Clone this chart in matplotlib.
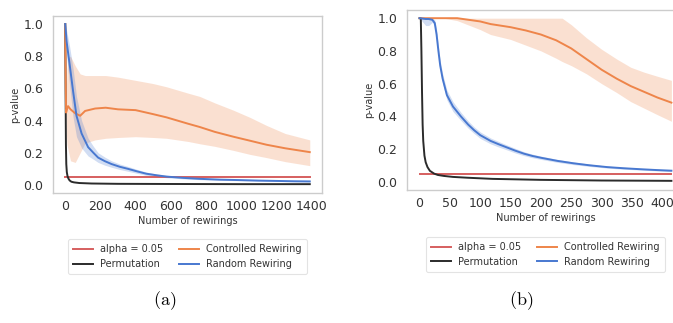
import numpy as np
import matplotlib
matplotlib.use("Agg")
import matplotlib.pyplot as plt

plt.rcParams["mathtext.fontset"] = "cm"

# colours (seaborn "muted"-like)
c_alpha = "#d65f5f"
c_perm = "#2b2b2b"
c_ctrl = "#ee854a"
c_rand = "#4878d0"

# ---------------- panel (a) ----------------
alpha_a_x = [0, 1390]
alpha_a_y = [0.05, 0.05]

perm_a_x = [0, 2, 4, 6, 9, 13, 18, 25, 35, 50, 80, 150, 300, 600, 1000, 1390]
perm_a_y = [1.0, 0.6, 0.25, 0.13, 0.08, 0.055, 0.04, 0.028, 0.02, 0.016, 0.012, 0.009, 0.007, 0.006, 0.005, 0.005]

rand_a_x = [0, 8, 25, 45, 64, 93, 130, 160, 187, 225, 263, 310, 357, 410, 460, 520, 575, 670, 765, 880, 1000, 1100, 1200, 1300, 1390]
rand_a_y = [1.0, 0.89, 0.75, 0.58, 0.43, 0.32, 0.235, 0.2, 0.17, 0.148, 0.13, 0.113, 0.10, 0.084, 0.07, 0.06, 0.052, 0.044, 0.038, 0.033, 0.03, 0.027, 0.025, 0.023, 0.022]
rand_a_lo = [1.0, 0.8, 0.62, 0.42, 0.3, 0.23, 0.18, 0.16, 0.14, 0.123, 0.11, 0.096, 0.085, 0.072, 0.06, 0.052, 0.045, 0.038, 0.033, 0.029, 0.026, 0.024, 0.022, 0.02, 0.019]
rand_a_hi = [1.0, 0.96, 0.86, 0.72, 0.55, 0.4, 0.29, 0.24, 0.2, 0.173, 0.15, 0.13, 0.115, 0.096, 0.08, 0.068, 0.06, 0.05, 0.043, 0.037, 0.034, 0.031, 0.028, 0.026, 0.025]

ctrl_a_x = [0, 3, 5, 10, 16, 30, 57, 85, 113, 170, 230, 300, 400, 500, 576, 700, 765, 850, 955, 1050, 1144, 1250, 1390]
ctrl_a_y = [1.0, 0.6, 0.45, 0.47, 0.49, 0.47, 0.445, 0.43, 0.46, 0.475, 0.48, 0.47, 0.465, 0.44, 0.42, 0.38, 0.36, 0.33, 0.30, 0.275, 0.25, 0.228, 0.204]
ctrl_a_lo = [1.0, 0.5, 0.35, 0.25, 0.22, 0.15, 0.14, 0.2, 0.26, 0.28, 0.29, 0.295, 0.3, 0.295, 0.29, 0.27, 0.256, 0.24, 0.215, 0.19, 0.17, 0.145, 0.12]
ctrl_a_hi = [1.0, 0.7, 0.55, 0.72, 0.79, 0.80, 0.74, 0.69, 0.68, 0.68, 0.68, 0.67, 0.65, 0.63, 0.61, 0.57, 0.55, 0.51, 0.465, 0.42, 0.37, 0.32, 0.28]

# ---------------- panel (b) ----------------
alpha_b_x = [0, 415]
alpha_b_y = [0.05, 0.05]

perm_b_x = [0, 2, 3, 4, 5, 6, 8, 10, 13, 17, 24, 30, 40, 55, 79, 120, 200, 300, 415]
perm_b_y = [1.0, 1.0, 0.8, 0.55, 0.35, 0.25, 0.16, 0.12, 0.09, 0.067, 0.05, 0.042, 0.036, 0.03, 0.025, 0.018, 0.012, 0.008, 0.006]

rand_b_x = [0, 10, 15, 21, 25, 28, 31, 34, 38, 45, 55, 68, 80, 90, 100, 117, 130, 144, 158, 172, 186, 200, 227, 254, 280, 309, 336, 364, 390, 415]
rand_b_y = [1.0, 0.995, 0.995, 0.99, 0.97, 0.9, 0.8, 0.71, 0.63, 0.53, 0.46, 0.4, 0.35, 0.315, 0.285, 0.25, 0.23, 0.21, 0.19, 0.172, 0.158, 0.147, 0.128, 0.113, 0.101, 0.09, 0.083, 0.077, 0.072, 0.068]
rand_b_lo = [1.0, 0.955, 0.955, 0.975, 0.95, 0.87, 0.77, 0.68, 0.6, 0.5, 0.43, 0.375, 0.328, 0.295, 0.265, 0.232, 0.213, 0.195, 0.176, 0.16, 0.147, 0.137, 0.119, 0.105, 0.094, 0.084, 0.077, 0.072, 0.067, 0.063]
rand_b_hi = [1.0, 1.0, 1.0, 1.0, 0.99, 0.93, 0.83, 0.74, 0.66, 0.56, 0.49, 0.425, 0.372, 0.335, 0.305, 0.268, 0.247, 0.225, 0.204, 0.184, 0.169, 0.157, 0.137, 0.121, 0.108, 0.096, 0.089, 0.082, 0.077, 0.073]

ctrl_b_x = [0, 40, 62, 100, 117, 150, 175, 200, 225, 235, 250, 275, 300, 325, 348, 370, 392, 415]
ctrl_b_y = [1.0, 1.0, 1.0, 0.98, 0.964, 0.945, 0.925, 0.90, 0.865, 0.845, 0.815, 0.75, 0.685, 0.63, 0.585, 0.55, 0.515, 0.484]
ctrl_b_lo = [1.0, 1.0, 0.985, 0.93, 0.9, 0.87, 0.835, 0.80, 0.755, 0.735, 0.71, 0.66, 0.6, 0.545, 0.49, 0.45, 0.41, 0.37]
ctrl_b_hi = [1.0, 1.0, 1.0, 1.0, 1.0, 1.0, 1.0, 1.0, 1.0, 1.0, 0.96, 0.88, 0.81, 0.75, 0.70, 0.67, 0.645, 0.62]

ticks_a = [0, 200, 400, 600, 800, 1000, 1200, 1400]
ticks_b = [0, 50, 100, 150, 200, 250, 300, 350, 400]
yticks = [0.0, 0.2, 0.4, 0.6, 0.8, 1.0]

W, H = 673, 323
fig = plt.figure(figsize=(W / 100, H / 100), dpi=100)


def px_axes(left, top, right, bottom):
    return fig.add_axes([left / W, 1 - bottom / H, (right - left) / W, (bottom - top) / H])


def draw(ax, alpha, perm, ctrl, rand, xticks, xlim):
    ax.fill_between(ctrl[0], ctrl[2], ctrl[3], color=c_ctrl, alpha=0.25, lw=0)
    ax.fill_between(rand[0], rand[2], rand[3], color=c_rand, alpha=0.25, lw=0)
    ax.plot(alpha[0], alpha[1], color=c_alpha, lw=1.4, label="alpha = 0.05")
    ax.plot(perm[0], perm[1], color=c_perm, lw=1.4, label="Permutation")
    ax.plot(ctrl[0], ctrl[1], color=c_ctrl, lw=1.4, label="Controlled Rewiring")
    ax.plot(rand[0], rand[1], color=c_rand, lw=1.4, label="Random Rewiring")
    ax.set_xlim(*xlim)
    ax.set_ylim(-0.05, 1.05)
    ax.set_xticks(xticks)
    ax.set_yticks(yticks)
    ax.set_yticklabels([f"{v:.1f}" for v in yticks])
    ax.tick_params(length=0, labelsize=9, colors="#333333", pad=7)
    ax.tick_params(axis="x", pad=5)
    for s in ax.spines.values():
        s.set_color("#cccccc")
        s.set_linewidth(1.0)
    ax.set_xlabel("Number of rewirings", fontsize=7, color="#333333", labelpad=2)
    ax.set_ylabel("p-value", fontsize=7, color="#333333", labelpad=2)
    leg = ax.legend(loc="upper center", bbox_to_anchor=(0.5, -0.235), ncol=2,
                    fontsize=7, frameon=True, handlelength=2.0,
                    columnspacing=1.6, borderpad=0.5, labelspacing=0.5)
    leg.get_frame().set_edgecolor("#dddddd")
    leg.get_frame().set_linewidth(0.8)
    for t in leg.get_texts():
        t.set_color("#333333")


ax1 = px_axes(53, 16, 322, 193)
draw(ax1, (alpha_a_x, alpha_a_y), (perm_a_x, perm_a_y),
     (ctrl_a_x, ctrl_a_y, ctrl_a_lo, ctrl_a_hi),
     (rand_a_x, rand_a_y, rand_a_lo, rand_a_hi), ticks_a, (-69.5, 1459.5))

ax2 = px_axes(407, 10, 684, 190)
draw(ax2, (alpha_b_x, alpha_b_y), (perm_b_x, perm_b_y),
     (ctrl_b_x, ctrl_b_y, ctrl_b_lo, ctrl_b_hi),
     (rand_b_x, rand_b_y, rand_b_lo, rand_b_hi), ticks_b, (-20.75, 435.75))

fig.text(165 / W, 1 - 301 / H, r"$\mathrm{(a)}$", ha="center", va="center", fontsize=13)
fig.text(521 / W, 1 - 301 / H, r"$\mathrm{(b)}$", ha="center", va="center", fontsize=13)

fig.savefig("out.png", dpi=100)
